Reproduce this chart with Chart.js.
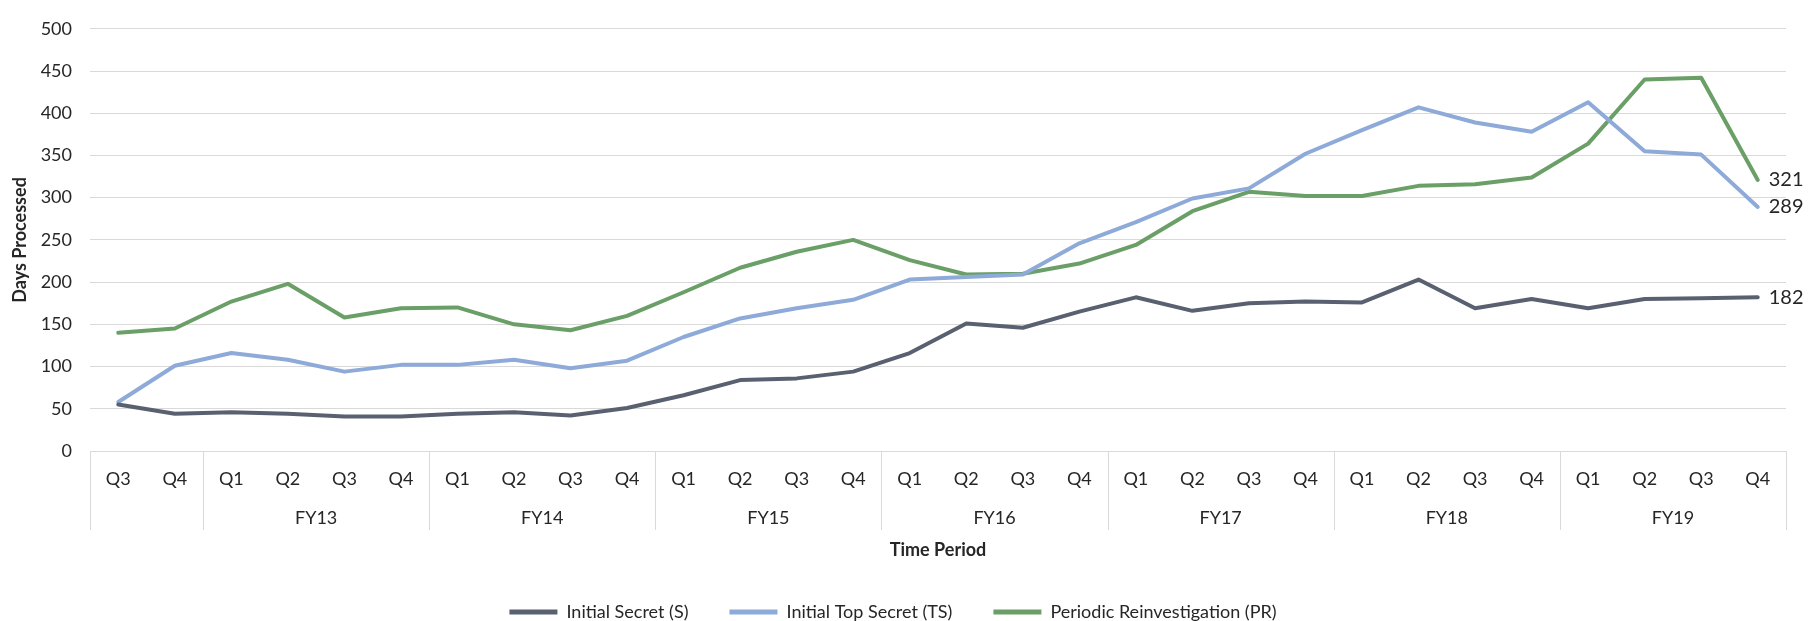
<!DOCTYPE html>
<html>
<head>
<meta charset="utf-8">
<script src="https://cdn.jsdelivr.net/npm/chart.js@4/dist/chart.umd.min.js"></script>
<style>
  html, body { margin: 0; padding: 0; background: #ffffff; }
  #wrap { width: 1810px; height: 621px; position: relative; }
</style>
</head>
<body>
<div id="wrap"><canvas id="c"></canvas></div>
<script>
// ---- data ----
const quarterLabels = ['Q3','Q4',
  'Q1','Q2','Q3','Q4',
  'Q1','Q2','Q3','Q4',
  'Q1','Q2','Q3','Q4',
  'Q1','Q2','Q3','Q4',
  'Q1','Q2','Q3','Q4',
  'Q1','Q2','Q3','Q4',
  'Q1','Q2','Q3','Q4'];
const fiscalYears = ['', 'FY13', 'FY14', 'FY15', 'FY16', 'FY17', 'FY18', 'FY19'];
const quartersPerYear = [2, 4, 4, 4, 4, 4, 4, 4];

const initialSecret = [55, 44, 46, 44, 41, 41, 44, 46, 42, 51,
  66, 84, 86, 94, 116, 151, 146, 165, 182, 166,
  175, 177, 176, 203, 169, 180, 169, 180, 181, 182];
const initialTopSecret = [58, 101, 116, 108, 94, 102, 102, 108, 98, 107,
  135, 157, 169, 179, 203, 206, 209, 246, 271, 299,
  311, 352, 380, 407, 389, 378, 413, 355, 351, 289];
const periodicReinvestigation = [140, 145, 177, 198, 158, 169, 170, 150, 143, 160,
  188, 217, 236, 250, 226, 209, 210, 222, 244, 284,
  307, 302, 302, 314, 316, 324, 364, 440, 442, 321];

const seriesNames = ['Initial Secret (S)', 'Initial Top Secret (TS)', 'Periodic Reinvestigation (PR)'];
const seriesColors = ['#596070', '#8eaad9', '#6a9f67'];

const FONT = 'Lato, "Open Sans", sans-serif';
const TEXT = '#262626';
const GRID = '#d9d9d9';

// ---- plugins ----
const fyPlugin = {
  id: 'fyRow',
  afterDraw(chart) {
    const x = chart.scales.x;
    const ctx = chart.ctx;
    const axisY = chart.chartArea.bottom;
    ctx.save();
    ctx.strokeStyle = GRID;
    ctx.lineWidth = 1;
    let start = 0;
    const bounds = [0];
    quartersPerYear.forEach(n => { start += n; bounds.push(start); });
    bounds.forEach(b => {
      const px = Math.round(x.getPixelForValue(b - 0.5)) + 0.5;
      ctx.beginPath();
      ctx.moveTo(px, axisY);
      ctx.lineTo(px, axisY + 79);
      ctx.stroke();
    });
    ctx.fillStyle = TEXT;
    ctx.font = '18px ' + FONT;
    ctx.textAlign = 'center';
    ctx.textBaseline = 'middle';
    let s = 0;
    fiscalYears.forEach((fy, i) => {
      const n = quartersPerYear[i];
      const c = s + (n - 1) / 2;
      if (fy) ctx.fillText(fy, x.getPixelForValue(c), axisY + 67);
      s += n;
    });
    ctx.restore();
  }
};

const endLabelPlugin = {
  id: 'endLabels',
  afterDatasetsDraw(chart) {
    const ctx = chart.ctx;
    ctx.save();
    ctx.fillStyle = TEXT;
    ctx.font = '20px ' + FONT;
    ctx.textAlign = 'left';
    ctx.textBaseline = 'middle';
    chart.data.datasets.forEach((ds, i) => {
      const meta = chart.getDatasetMeta(i);
      const last = meta.data[meta.data.length - 1];
      ctx.fillText(String(ds.data[ds.data.length - 1]), last.x + 11, last.y);
    });
    ctx.restore();
  }
};

const mkDs = (label, data, color) => ({
  label, data,
  borderColor: color,
  backgroundColor: color,
  borderWidth: 4,
  pointRadius: 0,
  pointHoverRadius: 0,
  tension: 0,
  borderCapStyle: 'round',
  borderJoinStyle: 'round',
  fill: false
});

new Chart(document.getElementById('c'), {
  type: 'line',
  data: {
    labels: quarterLabels,
    datasets: [
      mkDs(seriesNames[0], initialSecret, seriesColors[0]),
      mkDs(seriesNames[1], initialTopSecret, seriesColors[1]),
      mkDs(seriesNames[2], periodicReinvestigation, seriesColors[2])
    ]
  },
  plugins: [fyPlugin, endLabelPlugin],
  options: {
    responsive: true,
    maintainAspectRatio: false,
    animation: false,
    layout: { padding: { top: 16, right: 24, bottom: -10, left: 0 } },
    plugins: {
      legend: {
        position: 'bottom',
        labels: {
          font: { family: FONT, size: 18 },
          color: TEXT,
          boxWidth: 48,
          boxHeight: 5,
          padding: 41,
          generateLabels(chart) {
            return Chart.defaults.plugins.legend.labels.generateLabels(chart)
              .map(l => Object.assign(l, { lineWidth: 0 }));
          }
        }
      },
      tooltip: { enabled: false }
    },
    scales: {
      x: {
        type: 'category',
        offset: true,
        grid: { display: false, drawTicks: false },
        border: { display: true, color: GRID },
        ticks: {
          font: { family: FONT, size: 18 },
          color: TEXT,
          padding: 17,
          maxRotation: 0,
          autoSkip: false
        },
        title: {
          display: true,
          text: 'Time Period',
          font: { family: FONT, size: 18, weight: 'bold' },
          color: TEXT,
          padding: { top: 0, bottom: 1 }
        },
        afterFit(scale) { scale.height = 111; }
      },
      y: {
        min: 0,
        max: 500,
        ticks: {
          stepSize: 50,
          font: { family: FONT, size: 18 },
          color: TEXT,
          padding: 18
        },
        grid: { color: GRID, lineWidth: 1, drawTicks: false },
        border: { display: false },
        title: {
          display: true,
          text: 'Days Processed',
          font: { family: FONT, size: 18, weight: 'bold' },
          color: TEXT,
          padding: { top: 9, bottom: 0 }
        },
        afterFit(scale) { scale.width = 90; }
      }
    }
  }
});
</script>
</body>
</html>
